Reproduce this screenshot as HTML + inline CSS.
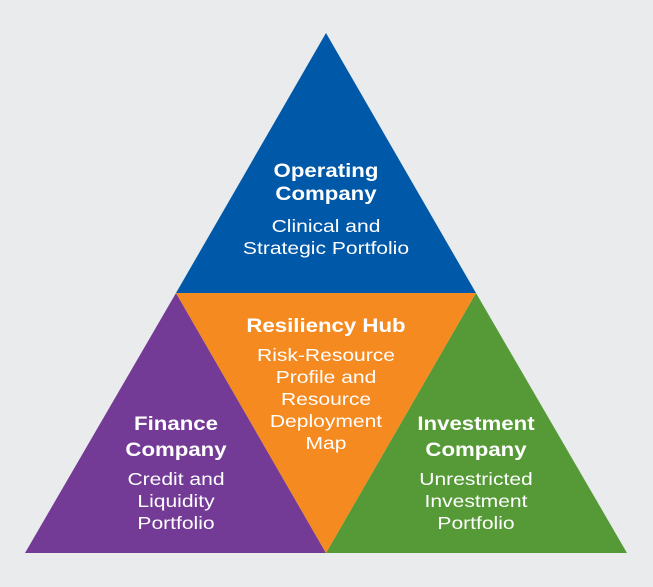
<!DOCTYPE html>
<html><head><style>
html,body{margin:0;padding:0;background:#e9ebec;}
svg{display:block}
text{font-family:"Liberation Sans",sans-serif;fill:#fff;text-anchor:middle;}
.b{font-weight:bold;font-size:19px}
.r{font-size:18px}
</style></head><body>
<svg width="653" height="587" viewBox="0 0 653 587">
<rect width="653" height="587" fill="#e9ebec"/>
<polygon points="326,33 476,293 176,293" fill="#0058a8"/>
<polygon points="176,293 326,553 25,553" fill="#743b96"/>
<polygon points="476,293 627,553 326,553" fill="#559a36"/>
<polygon points="176,293 476,293 326,553" fill="#f58a21"/>
<g transform="translate(326,0) scale(1.17,1)">
<text class="b" x="0" y="177">Operating</text>
<text class="b" x="0" y="200">Company</text>
<text class="r" x="0" y="232">Clinical and</text>
<text class="r" x="0" y="254">Strategic Portfolio</text>
<text class="b" x="0" y="332">Resiliency Hub</text>
<text class="r" x="0" y="361">Risk-Resource</text>
<text class="r" x="0" y="383">Profile and</text>
<text class="r" x="0" y="405">Resource</text>
<text class="r" x="0" y="427">Deployment</text>
<text class="r" x="0" y="449">Map</text>
</g>
<g transform="translate(176,0) scale(1.17,1)">
<text class="b" x="0" y="430">Finance</text>
<text class="b" x="0" y="456">Company</text>
<text class="r" x="0" y="485">Credit and</text>
<text class="r" x="0" y="507">Liquidity</text>
<text class="r" x="0" y="529">Portfolio</text>
</g>
<g transform="translate(476,0) scale(1.17,1)">
<text class="b" x="0" y="430">Investment</text>
<text class="b" x="0" y="456">Company</text>
<text class="r" x="0" y="485">Unrestricted</text>
<text class="r" x="0" y="507">Investment</text>
<text class="r" x="0" y="529">Portfolio</text>
</g>
</svg>
</body></html>
